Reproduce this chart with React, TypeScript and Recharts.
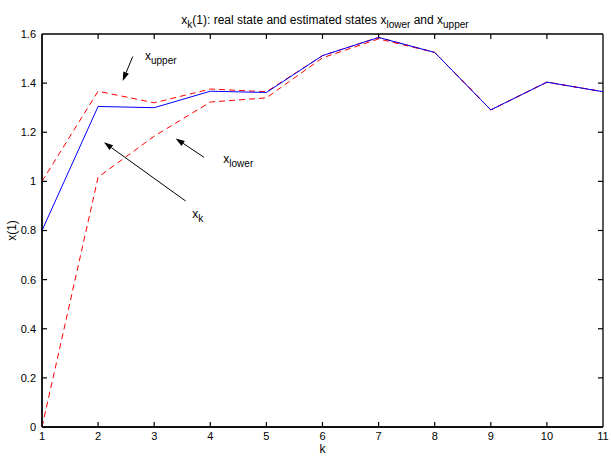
import { LineChart, Line, XAxis, YAxis, ReferenceLine, ReferenceDot } from 'recharts'

const ks = [1, 2, 3, 4, 5, 6, 7, 8, 9, 10, 11]
const xReal = [0.8, 1.305, 1.3, 1.367, 1.362, 1.512, 1.586, 1.525, 1.291, 1.404, 1.365]
const xUpper = [1.0, 1.367, 1.32, 1.376, 1.365, 1.512, 1.586, 1.525, 1.291, 1.404, 1.365]
const xLower = [0.0, 1.017, 1.184, 1.323, 1.34, 1.503, 1.58, 1.525, 1.291, 1.404, 1.365]
const yTicks = [0, 0.2, 0.4, 0.6, 0.8, 1, 1.2, 1.4, 1.6]

const data = ks.map((k, i) => ({ k, real: xReal[i], upper: xUpper[i], lower: xLower[i] }))

// annotations, in data coordinates
const arrows = [
  { from: { x: 2.617, y: 1.508 }, to: { x: 2.438, y: 1.409 } },
  { from: { x: 3.888, y: 1.098 }, to: { x: 3.383, y: 1.175 } },
  { from: { x: 3.561, y: 0.92 }, to: { x: 2.105, y: 1.159 } },
]
const notes = [
  { x: 2.836, y: 1.494, sub: 'upper' },
  { x: 4.232, y: 1.075, sub: 'lower' },
  { x: 3.679, y: 0.851, sub: 'k' },
]

const font = '"Liberation Sans", Arial, sans-serif'
const TICK = 5
const tickStyle = { fontSize: 11, fill: '#000', fontFamily: font }
const axisLine = { stroke: '#000', strokeWidth: 1.3 }

function Arrow(props: any) {
  const { x1, y1, x2, y2 } = props
  const a = Math.atan2(y2 - y1, x2 - x1)
  const len = 9
  const w = 3
  const bx = x2 - len * Math.cos(a)
  const by = y2 - len * Math.sin(a)
  const px = -Math.sin(a) * w
  const py = Math.cos(a) * w
  return (
    <g>
      <line x1={x1} y1={y1} x2={bx} y2={by} stroke="#000" strokeWidth={1} />
      <polygon points={`${x2},${y2} ${bx + px},${by + py} ${bx - px},${by - py}`} fill="#000" />
    </g>
  )
}

// short inward marks at both ends of a reference line (MATLAB box ticks)
function EdgeTicks(props: any) {
  const { x1, y1, x2, y2 } = props
  const len = Math.hypot(x2 - x1, y2 - y1) || 1
  const ux = ((x2 - x1) / len) * TICK
  const uy = ((y2 - y1) / len) * TICK
  return (
    <g>
      <line x1={x1} y1={y1} x2={x1 + ux} y2={y1 + uy} stroke="#000" strokeWidth={1.2} />
      <line x1={x2} y1={y2} x2={x2 - ux} y2={y2 - uy} stroke="#000" strokeWidth={1.2} />
    </g>
  )
}

// box edge: whole line
function BoxEdge(props: any) {
  const { x1, y1, x2, y2 } = props
  return <line x1={x1} y1={y1} x2={x2} y2={y2} stroke="#000" strokeWidth={1.3} />
}

function Note(sub: string) {
  return (props: any) => (
    <text x={props.cx} y={props.cy} fontFamily={font} fontSize={12} fill="#000">
      x<tspan dy={4} fontSize={10}>{sub}</tspan>
    </text>
  )
}

const isEdge = (list: number[], v: number) => v === list[0] || v === list[list.length - 1]

export default function App() {
  return (
    <div style={{ position: 'absolute', left: 0, top: 0, width: 611, height: 456, background: '#fff' }}>
      <LineChart width={611} height={456} data={data} margin={{ top: 34, right: 8, left: 0, bottom: 0 }}>
        <text x={325} y={24} textAnchor="middle" fontFamily={font} fontSize={12} fill="#000">
          x<tspan dy={4} fontSize={10}>k</tspan>
          <tspan dy={-4}>(1): real state and estimated states x</tspan>
          <tspan dy={4} fontSize={10}>lower</tspan>
          <tspan dy={-4}> and x</tspan>
          <tspan dy={4} fontSize={10}>upper</tspan>
        </text>
        <XAxis
          dataKey="k"
          type="number"
          domain={[1, 11]}
          ticks={ks}
          height={29}
          tickSize={0}
          tickMargin={5}
          tickLine={false}
          axisLine={axisLine}
          tick={tickStyle}
          label={{ value: 'k', position: 'insideBottom', offset: 3, style: { fontSize: 12, fill: '#000', fontFamily: font } }}
        />
        <YAxis
          type="number"
          domain={[0, 1.6]}
          ticks={yTicks}
          width={42}
          tickSize={0}
          tickMargin={6}
          tickLine={false}
          axisLine={axisLine}
          tick={tickStyle}
          label={{ value: 'x(1)', angle: -90, position: 'insideLeft', offset: 12, style: { fontSize: 12, fill: '#000', fontFamily: font, textAnchor: 'middle' } }}
        />
        {ks.map(k => (
          <ReferenceLine key={`kx${k}`} x={k} shape={isEdge(ks, k) ? BoxEdge : EdgeTicks} />
        ))}
        {yTicks.map(v => (
          <ReferenceLine key={`ky${v}`} y={v} shape={isEdge(yTicks, v) ? BoxEdge : EdgeTicks} />
        ))}
        <Line dataKey="upper" stroke="#ff0000" strokeWidth={1} strokeDasharray="6 4" dot={false} isAnimationActive={false} />
        <Line dataKey="lower" stroke="#ff0000" strokeWidth={1} strokeDasharray="6 4" dot={false} isAnimationActive={false} />
        <Line dataKey="real" stroke="#0000ff" strokeWidth={1} dot={false} isAnimationActive={false} />
        {arrows.map((a, i) => (
          <ReferenceLine key={i} segment={[a.from, a.to]} shape={Arrow} />
        ))}
        {notes.map((n, i) => (
          <ReferenceDot key={i} x={n.x} y={n.y} r={0} shape={Note(n.sub)} />
        ))}
      </LineChart>
    </div>
  )
}
